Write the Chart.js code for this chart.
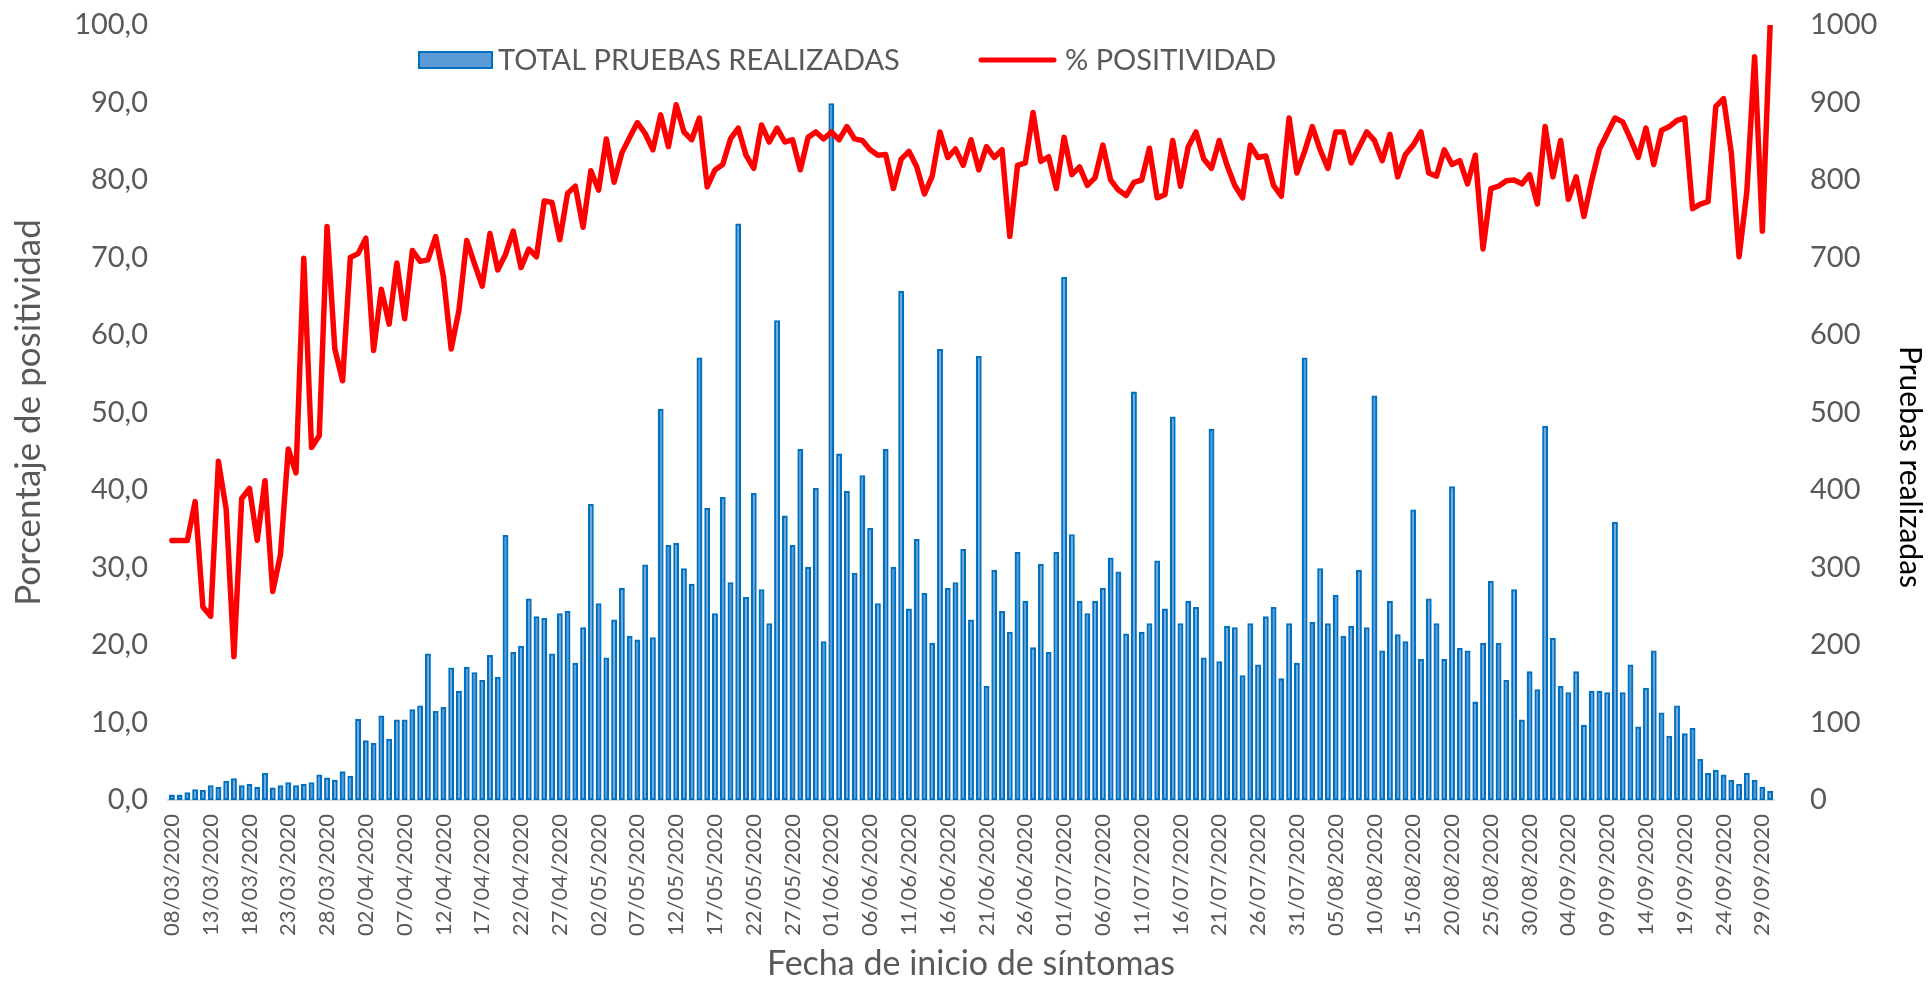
<!DOCTYPE html>
<html>
<head>
<meta charset="utf-8">
<script src="https://cdn.jsdelivr.net/npm/chart.js@4.4.0/dist/chart.umd.min.js"></script>
<style>
html, body { margin: 0; padding: 0; background: #fff; overflow: hidden; }
</style>
</head>
<body>
<canvas id="myChart" width="1929" height="984"></canvas>
<script>
// total tests per day, 08/03/2020 .. 30/09/2020
const pruebas = [
    7, 7, 10, 14, 13, 19, 17, 25, 28, 19, 21, 17, 35, 16, 19, 23, 19, 21, 23, 33, 29, 26, 37, 31, 105, 77,
    74, 109, 79, 104, 104, 117, 122, 189, 115, 120, 171, 141, 172, 165, 155, 187, 159, 342, 191, 199, 260, 237, 235, 189, 241, 244,
    177, 223, 382, 254, 184, 233, 274, 212, 207, 304, 210, 505, 329, 332, 299, 279, 571, 377, 241, 391, 281, 744, 262, 396, 272, 228,
    619, 367, 329, 453, 301, 403, 205, 899, 447, 399, 293, 419, 351, 254, 453, 301, 657, 247, 337, 267, 203, 582, 274, 281, 324, 233,
    573, 147, 297, 244, 217, 320, 257, 197, 305, 191, 320, 675, 343, 257, 241, 257, 274, 313, 295, 215, 527, 217, 228, 309, 247,
    495, 228, 257, 249, 184, 479, 179, 225, 223, 161, 228, 175, 237, 249, 157, 228, 177, 571, 230, 299, 228, 265, 212, 225, 297, 223,
    522, 193, 257, 214, 205, 375, 182, 260, 228, 182, 405, 196, 193, 127, 203, 283, 203, 155, 272, 104, 166, 143, 483, 209, 147, 139,
    166, 97, 141, 141, 139, 359, 139, 175, 95, 145, 193, 113, 83, 122, 86, 93, 53, 35, 39, 33, 26, 21, 35, 26, 17, 12
];

// % positividad per day
const positividad = [
    33.5, 33.5, 33.5, 38.5, 24.9, 23.7, 43.7, 37.5, 18.5, 38.9, 40.2, 33.5, 41.2, 26.9, 31.7, 45.3, 42.2, 69.9, 45.5, 47.0, 74.0, 58.2, 54.1, 70.0, 70.5, 72.5,
    58.0, 65.9, 61.4, 69.3, 62.1, 70.9, 69.5, 69.7, 72.7, 67.5, 58.2, 63.2, 72.2, 69.2, 66.3, 73.1, 68.4, 70.4, 73.4, 68.7, 71.1, 70.1, 77.3, 77.1, 72.3, 78.3,
    79.2, 73.9, 81.2, 78.7, 85.3, 79.7, 83.5, 85.5, 87.4, 86.0, 83.9, 88.4, 84.3, 89.7, 86.2, 85.2, 88.0, 79.1, 81.3, 82.0, 85.3, 86.7, 83.2, 81.5, 87.1, 84.9,
    86.7, 84.9, 85.2, 81.3, 85.5, 86.2, 85.3, 86.2, 85.2, 86.9, 85.3, 85.1, 83.9, 83.2, 83.3, 78.9, 82.7, 83.7, 81.7, 78.2, 80.5, 86.2, 82.9, 84.0, 81.9, 85.2,
    81.3, 84.3, 82.9, 83.9, 72.7, 81.9, 82.2, 88.7, 82.4, 83.0, 78.9, 85.5, 80.7, 81.7, 79.3, 80.3, 84.5, 80.0, 78.7, 78.0, 79.7, 80.0, 84.1, 77.7, 78.1,
    85.1, 79.2, 84.3, 86.2, 82.7, 81.5, 85.1, 81.9, 79.3, 77.7, 84.5, 82.9, 83.1, 79.3, 77.9, 88.0, 80.9, 83.7, 86.9, 83.9, 81.5, 86.2, 86.2, 82.2, 84.2, 86.2,
    85.1, 82.5, 85.9, 80.4, 83.3, 84.5, 86.2, 80.9, 80.5, 83.9, 82.0, 82.5, 79.5, 83.2, 71.1, 78.9, 79.2, 79.9, 80.0, 79.5, 80.7, 76.9, 86.9, 80.4, 85.1, 77.5,
    80.4, 75.3, 79.9, 84.0, 86.0, 88.0, 87.5, 85.3, 82.9, 86.7, 82.0, 86.4, 86.9, 87.7, 88.0, 76.3, 76.9, 77.2, 89.5, 90.5, 83.5, 70.1, 78.5, 95.9, 73.4, 100.0
];

const seriesNames = ['TOTAL PRUEBAS REALIZADAS', '% POSITIVIDAD'];
const xTitle = 'Fecha de inicio de síntomas';
const yTitle = 'Porcentaje de positividad';
const y1Title = 'Pruebas realizadas';

// one category per day starting 08/03/2020
function dayLabels(n) {
    var out = [];
    var d = new Date(2020, 2, 8);
    for (var i = 0; i < n; i++) {
        var dd = ('0' + d.getDate()).slice(-2);
        var mm = ('0' + (d.getMonth() + 1)).slice(-2);
        out.push(dd + '/' + mm + '/' + d.getFullYear());
        d.setDate(d.getDate() + 1);
    }
    return out;
}
const fechas = dayLabels(pruebas.length);

const grey = '#595959';
const fam = 'Lato';

const excelLegend = {
    id: 'excelLegend',
    afterDraw: (chart) => {
        const ctx = chart.ctx;
        const bar = chart.data.datasets[0];
        const line = chart.data.datasets[1];
        ctx.save();
        // bar entry
        ctx.fillStyle = bar.backgroundColor;
        ctx.strokeStyle = bar.borderColor;
        ctx.lineWidth = 2;
        ctx.fillRect(419, 52, 73, 16);
        ctx.strokeRect(419, 52, 73, 16);
        ctx.font = '29px ' + fam;
        ctx.fillStyle = grey;
        ctx.textBaseline = 'middle';
        ctx.textAlign = 'left';
        ctx.fillText(bar.label, 498, 61);
        // line entry
        ctx.beginPath();
        ctx.moveTo(981, 60);
        ctx.lineTo(1054, 60);
        ctx.strokeStyle = line.borderColor;
        ctx.lineWidth = 5;
        ctx.lineCap = 'round';
        ctx.stroke();
        ctx.fillText(line.label, 1065, 61);
        // right axis title
        ctx.translate(1910, 467);
        ctx.rotate(Math.PI / 2);
        ctx.textAlign = 'center';
        ctx.font = '30px ' + fam;
        ctx.fillStyle = '#000';
        ctx.fillText(y1Title, 0, 0);
        ctx.restore();
    }
};

// keep the tick padding from pushing the plot area down
function fixWidth(w) {
    return (s) => {
        s.width = w;
        s.paddingTop = 0;
        s.paddingBottom = 0;
    };
}

const ctx = document.getElementById('myChart').getContext('2d');
const myChart = new Chart(ctx, {
    type: 'bar',
    data: {
        labels: fechas,
        datasets: [{
            label: seriesNames[0],
            data: pruebas,
            yAxisID: 'y1',
            backgroundColor: '#5B9BD5',
            borderColor: '#0070C0',
            borderWidth: 2.3,
            borderSkipped: false,
            barPercentage: 0.76,
            categoryPercentage: 1,
            order: 1
        }, {
            type: 'line',
            label: seriesNames[1],
            data: positividad,
            yAxisID: 'y',
            borderColor: '#FF0000',
            backgroundColor: '#FF0000',
            borderWidth: 5.5,
            pointRadius: 0,
            tension: 0,
            borderJoinStyle: 'round',
            borderCapStyle: 'round',
            order: 0
        }]
    },
    options: {
        responsive: false,
        animation: false,
        devicePixelRatio: 1,
        layout: { padding: { top: 25, left: 0, right: 0, bottom: 0 } },
        plugins: {
            legend: { display: false },
            tooltip: { enabled: false }
        },
        scales: {
            x: {
                grid: { display: false, drawTicks: false },
                border: { display: true, color: '#D9D9D9', width: 2 },
                ticks: {
                    autoSkip: false,
                    minRotation: 90,
                    maxRotation: 90,
                    padding: 14,
                    color: grey,
                    font: { family: fam, size: 22 },
                    callback: function (v, i) { return i % 5 === 0 ? this.getLabelForValue(v) : ''; }
                },
                title: { display: true, text: xTitle, color: grey, font: { family: fam, size: 34 }, padding: 0 },
                afterFit: (s) => { s.height = 184; }
            },
            y: {
                position: 'left',
                min: 0,
                max: 100,
                grid: { display: false, drawTicks: false },
                border: { display: false },
                ticks: {
                    stepSize: 10,
                    padding: 20,
                    color: grey,
                    font: { family: fam, size: 29 },
                    callback: (v) => v.toFixed(1).replace('.', ',')
                },
                title: { display: true, text: yTitle, color: grey, font: { family: fam, size: 35 }, padding: { top: 8, bottom: 0 } },
                afterFit: fixWidth(168)
            },
            y1: {
                position: 'right',
                min: 0,
                max: 1000,
                grid: { display: false, drawTicks: false },
                border: { display: false },
                ticks: {
                    stepSize: 100,
                    padding: 36,
                    color: grey,
                    font: { family: fam, size: 29 },
                    callback: (v) => String(v)
                },
                afterFit: fixWidth(155)
            }
        }
    },
    plugins: [excelLegend]
});
</script>
</body>
</html>
